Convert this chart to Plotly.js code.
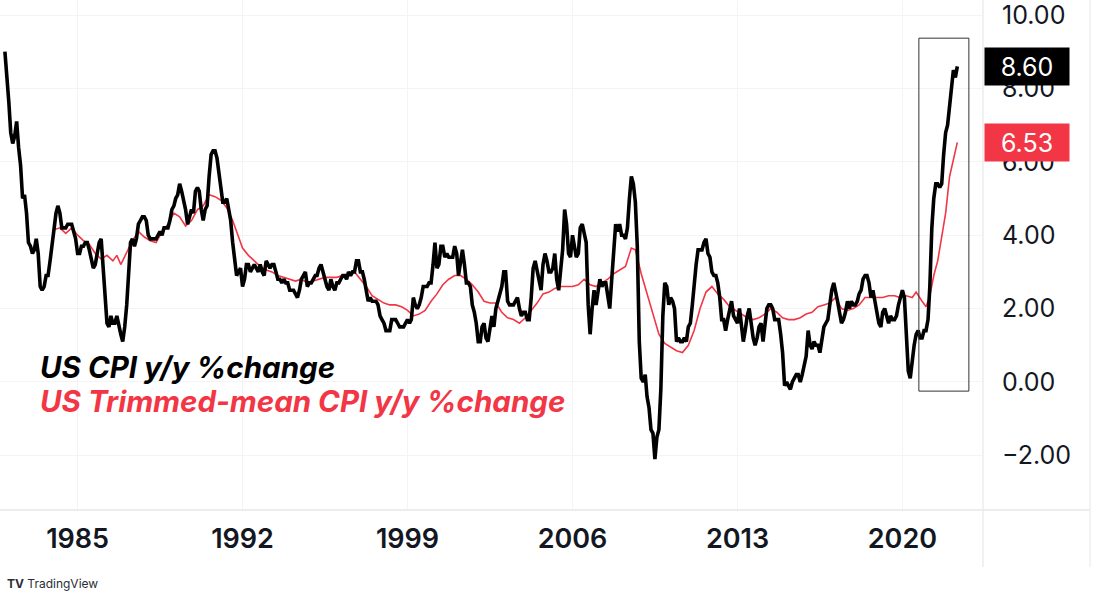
<!DOCTYPE html>
<html>
<head>
<meta charset="utf-8">
<script src="https://cdn.plot.ly/plotly-3.0.1.min.js"></script>
<style>
html,body{margin:0;padding:0;background:#fff;}
#chart{width:1100px;height:600px;}
</style>
</head>
<body>
<div id="chart"></div>
<script>
// US CPI y/y % change, monthly, starting Dec 1981
const cpiStart = [1981, 12];
const cpiYoY = [
  9.0,
  8.4, 7.6, 6.8, 6.5, 6.7, 7.1, 6.4, 5.9, 5.0, 5.1, 4.6, 3.8,   // 1982
  3.7, 3.5, 3.6, 3.9, 3.5, 2.6, 2.5, 2.6, 2.9, 2.9, 3.3, 3.8,   // 1983
  4.2, 4.6, 4.8, 4.6, 4.2, 4.2, 4.2, 4.3, 4.3, 4.3, 4.1, 3.9,   // 1984
  3.5, 3.5, 3.7, 3.7, 3.8, 3.8, 3.6, 3.3, 3.1, 3.2, 3.5, 3.8,   // 1985
  3.9, 3.1, 2.2, 1.6, 1.5, 1.8, 1.6, 1.6, 1.8, 1.5, 1.3, 1.1,   // 1986
  1.5, 2.1, 3.0, 3.8, 3.9, 3.7, 3.9, 4.3, 4.4, 4.5, 4.5, 4.4,   // 1987
  4.0, 3.9, 3.9, 3.9, 3.9, 4.0, 4.1, 4.0, 4.2, 4.2, 4.2, 4.4,   // 1988
  4.7, 4.8, 5.0, 5.1, 5.4, 5.2, 5.0, 4.7, 4.3, 4.5, 4.7, 4.6,   // 1989
  5.2, 5.3, 5.2, 4.7, 4.4, 4.7, 4.8, 5.6, 6.2, 6.3, 6.3, 6.1,   // 1990
  5.7, 5.3, 4.9, 4.9, 5.0, 4.7, 4.4, 3.8, 3.4, 2.9, 3.0, 3.1,   // 1991
  2.6, 2.8, 3.2, 3.2, 3.0, 3.1, 3.2, 3.1, 3.0, 3.2, 3.0, 2.9,   // 1992
  3.3, 3.2, 3.1, 3.2, 3.2, 3.0, 2.8, 2.8, 2.7, 2.8, 2.7, 2.7,   // 1993
  2.5, 2.5, 2.5, 2.4, 2.3, 2.5, 2.8, 2.9, 3.0, 2.6, 2.7, 2.7,   // 1994
  2.8, 2.9, 2.9, 3.1, 3.2, 3.0, 2.8, 2.6, 2.5, 2.8, 2.6, 2.5,   // 1995
  2.7, 2.7, 2.8, 2.9, 2.9, 2.8, 3.0, 2.9, 3.0, 3.0, 3.3, 3.3,   // 1996
  3.0, 3.0, 2.8, 2.5, 2.2, 2.3, 2.2, 2.2, 2.2, 2.1, 1.8, 1.7,   // 1997
  1.6, 1.4, 1.4, 1.4, 1.7, 1.7, 1.7, 1.6, 1.5, 1.5, 1.5, 1.6,   // 1998
  1.7, 1.6, 1.7, 2.3, 2.1, 2.0, 2.1, 2.3, 2.6, 2.6, 2.6, 2.7,   // 1999
  2.7, 3.2, 3.8, 3.1, 3.2, 3.7, 3.7, 3.4, 3.5, 3.4, 3.4, 3.4,   // 2000
  3.7, 3.5, 2.9, 3.3, 3.6, 3.2, 2.7, 2.7, 2.6, 2.1, 1.9, 1.6,   // 2001
  1.1, 1.1, 1.5, 1.6, 1.2, 1.1, 1.5, 1.8, 1.5, 2.0, 2.2, 2.4,   // 2002
  2.6, 3.0, 3.0, 2.2, 2.1, 2.1, 2.1, 2.2, 2.3, 2.0, 1.8, 1.9,   // 2003
  1.9, 1.7, 1.7, 2.3, 3.1, 3.3, 3.0, 2.7, 2.5, 3.2, 3.5, 3.3,   // 2004
  3.0, 3.0, 3.1, 3.5, 2.8, 2.5, 3.2, 3.6, 4.7, 4.3, 3.5, 3.4,   // 2005
  4.0, 3.6, 3.4, 3.5, 4.2, 4.3, 4.1, 3.8, 2.1, 1.3, 2.0, 2.5,   // 2006
  2.1, 2.4, 2.8, 2.6, 2.7, 2.7, 2.4, 2.0, 2.8, 3.5, 4.3, 4.1,   // 2007
  4.3, 4.0, 4.0, 3.9, 4.2, 5.0, 5.6, 5.4, 4.9, 3.7, 1.1, 0.1,   // 2008
  0.0, 0.2, -0.4, -0.7, -1.3, -1.4, -2.1, -1.5, -1.3, -0.2, 1.8, 2.7, // 2009
  2.6, 2.1, 2.3, 2.2, 2.0, 1.1, 1.2, 1.1, 1.1, 1.2, 1.1, 1.5,   // 2010
  1.6, 2.1, 2.7, 3.2, 3.6, 3.6, 3.6, 3.8, 3.9, 3.5, 3.4, 3.0,   // 2011
  2.9, 2.9, 2.7, 2.3, 1.7, 1.7, 1.4, 1.7, 2.0, 2.2, 1.8, 1.7,   // 2012
  1.6, 2.0, 1.5, 1.1, 1.4, 1.8, 2.0, 1.5, 1.2, 1.0, 1.2, 1.5,   // 2013
  1.6, 1.1, 1.5, 2.0, 2.1, 2.1, 2.0, 1.7, 1.7, 1.7, 1.3, 0.8,   // 2014
  -0.1, 0.0, -0.1, -0.2, 0.0, 0.1, 0.2, 0.2, 0.0, 0.2, 0.5, 0.7, // 2015
  1.4, 1.0, 0.9, 1.1, 1.0, 1.0, 0.8, 1.1, 1.5, 1.6, 1.7, 2.1,   // 2016
  2.5, 2.7, 2.4, 2.2, 1.9, 1.6, 1.7, 1.9, 2.2, 2.0, 2.2, 2.1,   // 2017
  2.1, 2.2, 2.4, 2.5, 2.8, 2.9, 2.9, 2.7, 2.3, 2.5, 2.2, 1.9,   // 2018
  1.6, 1.5, 1.9, 2.0, 1.8, 1.6, 1.8, 1.7, 1.7, 1.8, 2.1, 2.3,   // 2019
  2.5, 2.3, 1.5, 0.3, 0.1, 0.6, 1.0, 1.3, 1.4, 1.2, 1.2, 1.4,   // 2020
  1.4, 1.7, 2.6, 4.2, 5.0, 5.4, 5.4, 5.3, 5.4, 6.2, 6.8, 7.0,   // 2021
  7.5, 7.9, 8.5, 8.3, 8.6                                       // 2022
];

// US Trimmed-mean CPI y/y % change
const trimDates = [
  "1984-01","1984-04","1984-07","1984-10","1985-01","1985-04","1985-07","1985-10",
  "1986-01","1986-04","1986-07","1986-09","1986-11","1987-02","1987-05","1987-08","1987-11",
  "1988-02","1988-05","1988-08","1988-11","1989-02","1989-05","1989-08","1989-11",
  "1990-02","1990-05","1990-08","1990-11","1991-02","1991-05","1991-08","1991-10",
  "1992-01","1992-04","1992-07","1992-10","1993-01","1993-04","1993-07","1993-10",
  "1994-01","1994-04","1994-07","1994-10","1995-01","1995-04","1995-07","1995-10",
  "1996-01","1996-04","1996-07","1996-10","1997-01","1997-04","1997-07","1997-10",
  "1998-01","1998-04","1998-07","1998-10","1999-01","1999-04","1999-07","1999-10",
  "2000-01","2000-04","2000-07","2000-10","2001-01","2001-04","2001-07","2001-10",
  "2002-01","2002-04","2002-07","2002-10","2003-01","2003-04","2003-07","2003-10",
  "2004-01","2004-04","2004-07","2004-10","2005-01","2005-04","2005-07","2005-10",
  "2006-01","2006-04","2006-07","2006-10","2007-01","2007-04","2007-07","2007-10",
  "2008-01","2008-04","2008-07","2008-09","2008-12","2009-03","2009-06","2009-09","2009-12",
  "2010-03","2010-06","2010-09","2010-12","2011-03","2011-06","2011-09","2011-12",
  "2012-03","2012-06","2012-09","2012-12","2013-03","2013-06","2013-09","2013-12",
  "2014-03","2014-06","2014-09","2014-12","2015-03","2015-06","2015-09","2015-12",
  "2016-03","2016-06","2016-09","2016-12","2017-03","2017-06","2017-09","2017-12",
  "2018-03","2018-06","2018-09","2018-12","2019-03","2019-06","2019-09","2019-12",
  "2020-03","2020-06","2020-08","2020-11","2021-01","2021-03","2021-05","2021-07",
  "2021-09","2021-11","2022-01","2022-03","2022-05"
];
const trimYoY = [
  4.15, 4.2, 4.05, 4.2, 4.0, 3.85, 3.75, 3.5,
  3.35, 3.45, 3.3, 3.45, 3.2, 3.55, 3.85, 4.1, 3.95,
  3.85, 3.8, 4.1, 4.3, 4.6, 4.5, 4.25, 4.4,
  4.7, 4.8, 5.1, 5.05, 4.95, 4.75, 4.4, 4.1,
  3.65, 3.45, 3.3, 3.15, 3.05, 3.0, 2.9, 2.85,
  2.8, 2.75, 2.8, 2.7, 2.75, 2.8, 2.85, 2.85,
  2.85, 2.9, 2.95, 3.0, 2.8, 2.6, 2.35, 2.25,
  2.15, 2.1, 2.1, 2.05, 1.95, 1.8, 1.85, 1.95,
  2.2, 2.4, 2.65, 2.8, 2.9, 2.9, 2.8, 2.65,
  2.45, 2.2, 2.15, 2.15, 1.9, 1.75, 1.7, 1.6,
  1.75, 1.95, 2.15, 2.4, 2.45, 2.55, 2.6, 2.6,
  2.6, 2.65, 2.8, 2.65, 2.6, 2.7, 2.8, 2.95,
  3.05, 3.15, 3.65, 3.6, 2.95, 2.4, 1.8, 1.3, 1.05,
  0.95, 0.85, 0.8, 1.0, 1.4, 2.0, 2.45, 2.6,
  2.4, 2.25, 2.05, 1.95, 1.85, 1.75, 1.7, 1.75,
  1.85, 2.0, 1.9, 1.75, 1.7, 1.7, 1.75, 1.85,
  1.9, 2.05, 2.1, 2.15, 2.3, 2.0, 1.95, 2.0,
  2.1, 2.3, 2.3, 2.3, 2.3, 2.35, 2.35, 2.3,
  2.35, 2.3, 2.45, 2.2, 2.05, 2.35, 2.9, 3.3,
  4.0, 4.6, 5.6, 6.1, 6.53
];

const yTicks = [-2, 0, 2, 4, 6, 8, 10];
const xTickYears = [1985, 1992, 1999, 2006, 2013, 2020];
const legendLabels = ["US CPI y/y %change", "US Trimmed-mean CPI y/y %change"];
const lastCPI = 8.60, lastTrim = 6.53;

const cpiDates = [];
{
  let y = cpiStart[0], m = cpiStart[1];
  for (let i = 0; i < cpiYoY.length; i++) {
    cpiDates.push(y + "-" + String(m).padStart(2, "0") + "-01");
    m++; if (m > 12) { m = 1; y++; }
  }
}

const RED = "#f23645";
const FONT = "Inter, 'Noto Sans', sans-serif";

const traces = [
  {x: trimDates, y: trimYoY, type: "scatter", mode: "lines",
   line: {color: RED, width: 1.6}, hoverinfo: "skip"},
  {x: cpiDates, y: cpiYoY, type: "scatter", mode: "lines",
   line: {color: "#000000", width: 3.6}, hoverinfo: "skip"}
];

const layout = {
  width: 1100, height: 600,
  margin: {l: 0, r: 117, t: 0, b: 90, pad: 0},
  paper_bgcolor: "#ffffff", plot_bgcolor: "#ffffff",
  showlegend: false,
  font: {family: FONT, color: "#131722"},
  xaxis: {
    type: "date",
    range: ["1981-09-16", "2023-06-03"],
    tickvals: xTickYears.map(v => v + "-01-01"),
    ticktext: xTickYears.map(String),
    tickfont: {size: 27, family: FONT, color: "#131722", weight: 600},
    showgrid: true, gridcolor: "#f4f4f6", gridwidth: 1,
    zeroline: false, showline: false, ticks: "",
    ticklabelstandoff: 10,
    fixedrange: true
  },
  yaxis: {
    side: "right",
    range: [-3.49, 10.41],
    tickvals: yTicks,
    tickformat: ".2f",
    tickfont: {size: 25, family: FONT, color: "#131722"},
    showgrid: true, gridcolor: "#f4f4f6", gridwidth: 1,
    zeroline: false, showline: false, ticks: "",
    ticklabelstandoff: 18,
    ticklabeloverflow: "allow",
    fixedrange: true
  },
  shapes: [
    // time-scale separator
    {type: "line", xref: "paper", yref: "paper", x0: 0, x1: 1.109, y0: 0, y1: 0,
     line: {color: "#e6e6ea", width: 1.5}},
    // price-scale separator
    {type: "line", xref: "paper", yref: "paper", x0: 1, x1: 1, y0: -0.112, y1: 1,
     line: {color: "#ececf0", width: 1.5}},
    {type: "line", xref: "paper", yref: "paper", x0: 1.109, x1: 1.109, y0: -0.112, y1: 1,
     line: {color: "#f0f0f3", width: 1.5}},
    // highlight box
    {type: "rect", xref: "x", yref: "y", x0: "2020-09-12", x1: "2022-10-27", y0: -0.25, y1: 9.37,
     line: {color: "#333333", width: 1}, fillcolor: "rgba(0,0,0,0)"}
  ],
  annotations: [
    {xref: "paper", yref: "y", x: 1, y: lastCPI, xanchor: "left", yanchor: "middle",
     text: lastCPI.toFixed(2), showarrow: false, bgcolor: "#000000",
     font: {size: 25, color: "#ffffff", family: FONT},
     width: 80, height: 33, borderpad: 2, align: "center", xshift: 1},
    {xref: "paper", yref: "y", x: 1, y: lastTrim, xanchor: "left", yanchor: "middle",
     text: lastTrim.toFixed(2), showarrow: false, bgcolor: RED,
     font: {size: 25, color: "#ffffff", family: FONT},
     width: 80, height: 33, borderpad: 2, align: "center", xshift: 1},
    {xref: "paper", yref: "paper", x: 38 / 983, y: (510 - 367) / 510, xanchor: "left", yanchor: "middle",
     text: "<b><i>" + legendLabels[0] + "</i></b>", showarrow: false,
     font: {size: 29.5, color: "#000000", family: FONT}},
    {xref: "paper", yref: "paper", x: 38 / 983, y: (510 - 401) / 510, xanchor: "left", yanchor: "middle",
     text: "<b><i>" + legendLabels[1] + "</i></b>", showarrow: false,
     font: {size: 29.5, color: RED, family: FONT}},
    {xref: "paper", yref: "paper", x: 5 / 983, y: -(583 - 510) / 510, xanchor: "left", yanchor: "middle",
     text: "<b>TV</b> TradingView", showarrow: false,
     font: {size: 12, color: "#2a2e39", family: FONT}}
  ]
};

Plotly.newPlot("chart", traces, layout, {displayModeBar: false, staticPlot: true});
</script>
</body>
</html>
